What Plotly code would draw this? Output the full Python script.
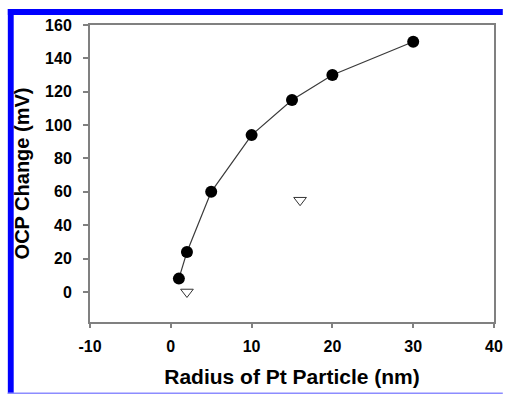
import plotly.graph_objects as go

radius = [1, 2, 5, 10, 15, 20, 30]
ocp = [8, 24, 60, 94, 115, 130, 150]
radius_tri = [2, 16]
ocp_tri = [0, 55]
x_ticks = [-10, 0, 10, 20, 30, 40]
y_ticks = [0, 20, 40, 60, 80, 100, 120, 140, 160]

W, H = 512, 394
L, R, T, B = 90, 503, 25, 322

def px(x):
    return (x - L) / (R - L)

def py(y):
    return 1 - (y - T) / (B - T)

fig = go.Figure()
fig.add_trace(go.Scatter(
    x=radius, y=ocp, mode="lines+markers",
    line=dict(color="#3a3a3a", width=1.2),
    marker=dict(symbol="circle", size=12, color="black"),
    showlegend=False))
fig.add_trace(go.Scatter(
    x=radius_tri, y=ocp_tri, mode="markers",
    marker=dict(symbol="triangle-down-open", size=11, color="#333333",
                line=dict(width=1)),
    showlegend=False))

font_family = "Liberation Sans, Arial, sans-serif"
axis_common = dict(
    showline=True, linecolor="#808080", linewidth=2, mirror=True,
    ticks="outside", tickcolor="#808080", tickwidth=1.5,
    showgrid=False, zeroline=False,
    tickfont=dict(family=font_family, size=16, color="black"),
)
fig.update_xaxes(range=[-10, 40], tickvals=x_ticks, ticklen=4,
                 ticklabelstandoff=5,
                 title=dict(text="<b>Radius of Pt Particle (nm)</b>",
                            font=dict(family=font_family, size=21, color="black"),
                            standoff=15),
                 ticktext=[f"<b>{v}</b>" for v in x_ticks], **axis_common)
fig.update_yaxes(range=[-18, 160], tickvals=y_ticks, ticklen=5,
                 ticklabelstandoff=8,
                 ticktext=[f"<b>{v}</b>" for v in y_ticks],
                 title=dict(text="<b>OCP Change (mV)</b>",
                            font=dict(family=font_family, size=20, color="black"),
                            standoff=10),
                 **axis_common)

shapes = [
    dict(type="rect", xref="paper", yref="paper", x0=px(6), x1=px(12),
         y0=py(9), y1=py(394), fillcolor="#0000ff", line=dict(width=0), layer="above"),
    dict(type="rect", xref="paper", yref="paper", x0=px(6), x1=px(512),
         y0=py(9), y1=py(15), fillcolor="#0000ff", line=dict(width=0), layer="above"),
    dict(type="rect", xref="paper", yref="paper", x0=px(6), x1=px(512),
         y0=py(392.5), y1=py(394), fillcolor="#8c8cff", line=dict(width=0), layer="above"),
]

fig.update_layout(
    width=W, height=H,
    margin=dict(l=L, r=W - R, t=T, b=H - B),
    paper_bgcolor="white", plot_bgcolor="white",
    shapes=shapes,
)
fig.write_html("out.html")
